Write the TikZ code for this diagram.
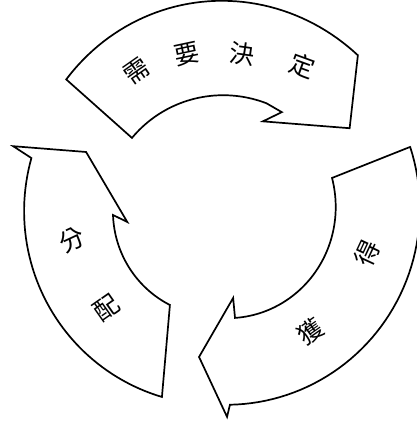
\documentclass[tikz,border=0pt]{standalone}
\usepackage{fontspec}
\newfontfamily\cjk{Noto Sans CJK TC}
\begin{document}
\begin{tikzpicture}[x=1pt,y=1pt,
  arrowshape/.style={draw=black,line width=1.7pt,line join=miter,fill=white},
  ch/.style={font=\cjk\fontsize{25}{25}\selectfont,inner sep=0pt}]
\useasboundingbox (0,0) rectangle (416,428);
\coordinate (C) at (220,213);
% top arrow
\draw[arrowshape] ([shift={(C)}]138.6:205)
  -- plot[domain=138.6:49.2,samples=50,variable=\t]
     ({220+(205+(211-205)*(\t-138.6)/(49.2-138.6)+6*sin(180*(\t-49.2)/(138.6-49.2)))*cos(\t)},
      {213+(205+(211-205)*(\t-138.6)/(49.2-138.6)+6*sin(180*(\t-49.2)/(138.6-49.2)))*sin(\t)})
  -- ([shift={(C)}]33.8:156) coordinate (ttip)
  -- ([shift={(C)}]65.4:103)
  -- ([shift={(C)}]59:120)
  -- ([shift={(C)}]67.4:121)
  -- plot[domain=67.4:138.8,samples=40,variable=\t]
     ({220+(121+(117-121)*(\t-67.4)/(138.8-67.4))*cos(\t)},
      {213+(121+(117-121)*(\t-67.4)/(138.8-67.4))*sin(\t)})
  -- cycle;
% left arrow
\draw[arrowshape] ([shift={(C)}]161.6:218)
  -- ([shift={(C)}]154.8:148) coordinate (ltip)
  -- ([shift={(C)}]184.3:93)
  -- ([shift={(C)}]180:107)
  -- plot[domain=180:240.9,samples=40,variable=\t]
     ({220+(107+(103-107)*(\t-180)/(60.9))*cos(\t)},
      {213+(107+(103-107)*(\t-180)/(60.9))*sin(\t)})
  -- ([shift={(C)}]252.3:191)
  -- plot[domain=252.3:163.2,samples=50,variable=\t]
     ({220+(191+(197-191)*(\t-252.3)/(163.2-252.3))*cos(\t)},
      {213+(191+(197-191)*(\t-252.3)/(163.2-252.3))*sin(\t)})
  -- cycle;
% right arrow
\draw[arrowshape] ([shift={(C)}]19.7:202)
  -- ([shift={(C)}]18.3:118)
  -- plot[domain=18.3:-81.7,samples=50,variable=\t]
     ({220+(118+(104-118)*(\t-18.3)/(-100))*cos(\t)},
      {213+(118+(104-118)*(\t-18.3)/(-100))*sin(\t)})
  -- ([shift={(C)}]-81:84)
  -- ([shift={(C)}]-98.4:143.5) coordinate (rtip)
  -- ([shift={(C)}]-88:202)
  -- ([shift={(C)}]-87:190)
  -- plot[domain=-87:19.7,samples=50,variable=\t]
     ({220+(190+(202-190)*(\t+87)/(106.7))*cos(\t)},
      {213+(190+(202-190)*(\t+87)/(106.7))*sin(\t)})
  -- cycle;
% labels
\node[ch,rotate=35] (n1) at (137,357) {需};
\node[ch,rotate=12] (n2) at (187,374) {要};
\node[ch,rotate=-8] (n3) at (242,374) {決};
\node[ch,rotate=-20] (n4) at (303,362) {定};
\node[ch,rotate=25] (l1) at (72,188) {分};
\node[ch,rotate=35] (l2) at (107,120) {配};
\node[ch,rotate=65] (r1) at (367,175) {得};
\node[ch,rotate=35] (r2) at (310,96) {獲};
\end{tikzpicture}
\end{document}
